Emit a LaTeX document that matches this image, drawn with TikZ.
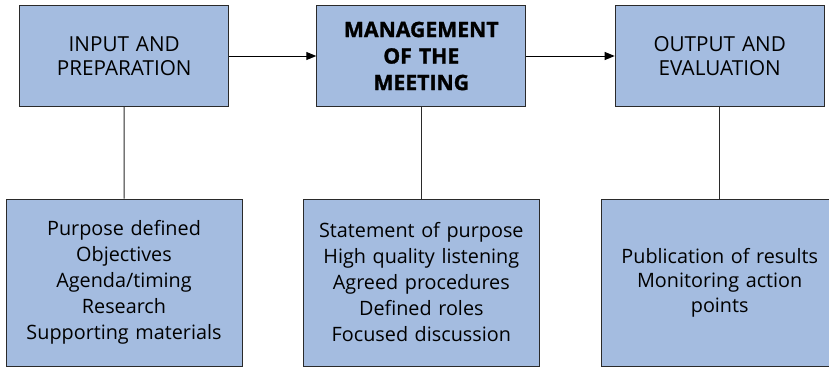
\documentclass[tikz,border=0pt]{standalone}
\usepackage{fontspec}
\setmainfont{Open Sans}
\newfontfamily\heavyfont[BoldFeatures={FakeBold=1.3}]{Open Sans}
\usetikzlibrary{arrows.meta}
\definecolor{boxblue}{HTML}{A4BCE0}
\definecolor{edge}{HTML}{2A2A2A}
\tikzset{
  topbox/.style={draw=edge, line width=1pt, fill=boxblue, minimum width=209pt, minimum height=101pt, inner sep=0pt, align=center, text width=205pt, font=\fontsize{20.7}{24.3}\selectfont},
  botbox/.style={draw=edge, line width=1pt, fill=boxblue, minimum width=236pt, minimum height=167pt, inner sep=0pt, align=center, text width=230pt, font=\fontsize{19.8}{26}\selectfont},
  flow/.style={line width=1pt, -{Triangle[length=10pt,width=8pt]}},
  link/.style={draw=edge, line width=1pt}
}
\begin{document}
\begin{tikzpicture}[x=1pt,y=-1pt]
\useasboundingbox (0,0) rectangle (829,367);
\node[topbox] (in) at (124.2,56) {INPUT AND\\PREPARATION};
\node[topbox, font=\fontsize{21.2}{26.5}\selectfont\heavyfont\bfseries] (mg) at (421.3,56) {MANAGEMENT\\OF THE\\MEETING};
\node[topbox] (out) at (719.7,56) {OUTPUT AND\\EVALUATION};
\node[botbox] (inb) at (124,282.5) {Purpose defined\\Objectives\\Agenda/timing\\Research\\Supporting materials};
\node[botbox] (mgb) at (421.3,282.5) {Statement of purpose\\High quality listening\\Agreed procedures\\Defined roles\\Focused discussion};
\node[botbox, font=\fontsize{19.8}{24.5}\selectfont] (outb) at (719.7,282.5) {Publication of results\\Monitoring action\\points};
\draw[flow] (in) -- (mg);
\draw[flow] (mg) -- (out);
\draw[link] (in) -- (inb);
\draw[link] (mg) -- (mgb);
\draw[link] (out) -- (outb);
\end{tikzpicture}
\end{document}
